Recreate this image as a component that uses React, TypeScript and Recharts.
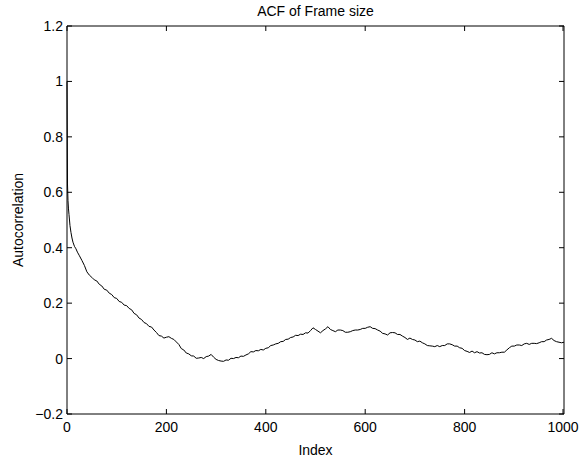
import { LineChart, Line, XAxis, YAxis, Label } from "recharts";

// lag index of each sample
const lags = [
  0, 1, 2, 3, 4, 5, 6, 8, 10, 12, 15, 18, 21, 25, 30, 35, 40, 45, 50, 55, 60, 65, 70, 75, 80, 85, 90, 95,
  100, 105, 110, 115, 120, 125, 130, 135, 140, 145, 150, 155, 160, 165, 170, 175, 180, 185, 190, 195,
  200, 205, 210, 215, 220, 225, 230, 235, 240, 245, 250, 255, 260, 265, 270, 275, 280, 285, 290, 295,
  300, 305, 310, 315, 320, 325, 330, 335, 340, 345, 350, 355, 360, 365, 370, 375, 380, 385, 390, 395,
  400, 405, 410, 415, 420, 425, 430, 435, 440, 445, 450, 455, 460, 465, 470, 475, 480, 485, 490, 495,
  500, 505, 510, 515, 520, 525, 530, 535, 540, 545, 550, 555, 560, 565, 570, 575, 580, 585, 590, 595,
  600, 605, 610, 615, 620, 625, 630, 635, 640, 645, 650, 655, 660, 665, 670, 675, 680, 685, 690, 695,
  700, 705, 710, 715, 720, 725, 730, 735, 740, 745, 750, 755, 760, 765, 770, 775, 780, 785, 790, 795,
  800, 805, 810, 815, 820, 825, 830, 835, 840, 845, 850, 855, 860, 865, 870, 875, 880, 885, 890, 895,
  900, 905, 910, 915, 920, 925, 930, 935, 940, 945, 950, 955, 960, 965, 970, 975, 980, 985, 990, 995,
  1000,
];

// autocorrelation of frame size
const acf = [
  1.0, 0.63, 0.57, 0.54, 0.52, 0.5, 0.48, 0.455, 0.435, 0.42, 0.405, 0.396, 0.384, 0.371, 0.354, 0.336, 0.313, 0.301, 0.293, 0.284, 0.28, 0.268, 0.262, 0.25, 0.247, 0.236, 0.231, 0.22,
  0.217, 0.206, 0.203, 0.193, 0.191, 0.181, 0.176, 0.163, 0.158, 0.146, 0.141, 0.13, 0.126, 0.116, 0.114, 0.103, 0.094, 0.083, 0.081, 0.074,
  0.077, 0.079, 0.073, 0.069, 0.06, 0.051, 0.036, 0.031, 0.02, 0.017, 0.01, 0.009, 0.001, 0.002, 0.004, 0.0, 0.007, 0.009, 0.015, 0.005,
  -0.003, -0.007, -0.009, -0.01, -0.005, -0.006, 0.001, 0.0, 0.004, 0.003, 0.009, 0.008, 0.013, 0.017, 0.025, 0.024, 0.029, 0.028, 0.033, 0.031,
  0.037, 0.039, 0.047, 0.049, 0.053, 0.055, 0.061, 0.062, 0.069, 0.07, 0.076, 0.078, 0.084, 0.083, 0.088, 0.087, 0.093, 0.092, 0.101, 0.111,
  0.105, 0.099, 0.093, 0.101, 0.107, 0.115, 0.105, 0.101, 0.097, 0.103, 0.103, 0.101, 0.095, 0.095, 0.097, 0.101, 0.103, 0.103, 0.105, 0.109,
  0.109, 0.113, 0.115, 0.109, 0.108, 0.103, 0.099, 0.091, 0.089, 0.085, 0.093, 0.094, 0.093, 0.087, 0.087, 0.081, 0.076, 0.069, 0.074, 0.069,
  0.067, 0.061, 0.063, 0.057, 0.053, 0.047, 0.046, 0.045, 0.043, 0.047, 0.043, 0.047, 0.047, 0.053, 0.053, 0.05, 0.045, 0.045, 0.039, 0.037,
  0.029, 0.026, 0.022, 0.027, 0.021, 0.025, 0.02, 0.021, 0.015, 0.014, 0.015, 0.021, 0.017, 0.021, 0.021, 0.023, 0.023, 0.031, 0.039, 0.045,
  0.045, 0.049, 0.049, 0.047, 0.053, 0.055, 0.051, 0.055, 0.055, 0.054, 0.057, 0.061, 0.061, 0.067, 0.069, 0.073, 0.065, 0.061, 0.059, 0.057,
  0.059,
];

const xTicks = [0, 200, 400, 600, 800, 1000];
const yTicks = [-0.2, 0, 0.2, 0.4, 0.6, 0.8, 1, 1.2];

const data = lags.map((lag, i) => ({ lag, acf: acf[i] }));

const FONT = "'Liberation Sans', Arial, sans-serif";
const TICK = 5;

const fmtY = (v: number) => (v < 0 ? "\u2212" + String(-v) : String(v));

const BottomTick = (props: any) => {
  const { x, y, payload } = props;
  return (
    <g>
      <line x1={x} y1={y} x2={x} y2={y - TICK} stroke="#000" />
      <text x={x} y={y + 18} textAnchor="middle" fontSize={14} fontFamily={FONT} fill="#000">
        {payload.value}
      </text>
    </g>
  );
};

const TopTick = (props: any) => {
  const { x, y } = props;
  return <line x1={x} y1={y} x2={x} y2={y + TICK} stroke="#000" />;
};

const LeftTick = (props: any) => {
  const { x, y, payload } = props;
  return (
    <g>
      <line x1={x} y1={y} x2={x + TICK} y2={y} stroke="#000" />
      <text x={x - 4} y={y + 5} textAnchor="end" fontSize={14} fontFamily={FONT} fill="#000">
        {fmtY(payload.value)}
      </text>
    </g>
  );
};

const RightTick = (props: any) => {
  const { x, y } = props;
  return <line x1={x} y1={y} x2={x - TICK} y2={y} stroke="#000" />;
};

export default function App() {
  return (
    <div style={{ position: "absolute", left: 0, top: 0, background: "#fff" }}>
      <LineChart width={579} height={458} data={data} margin={{ top: 25, right: 14, bottom: 0, left: 0 }}>
        <XAxis
          dataKey="lag"
          type="number"
          domain={[0, 1000]}
          ticks={xTicks}
          height={44}
          tickSize={0}
          tickMargin={0}
          tickLine={false}
          tick={<BottomTick />}
          axisLine={{ stroke: "#000" }}
        >
          <Label value="Index" position="insideBottom" offset={3} style={{ fontSize: 14, fontFamily: FONT, fill: "#000" }} />
        </XAxis>
        <XAxis
          xAxisId="top"
          orientation="top"
          dataKey="lag"
          type="number"
          domain={[0, 1000]}
          ticks={xTicks}
          height={1}
          tickSize={0}
          tickMargin={0}
          tickLine={false}
          tick={<TopTick />}
          axisLine={{ stroke: "#000" }}
        >
          <Label value="ACF of Frame size" position="top" offset={9} style={{ fontSize: 14, fontFamily: FONT, fill: "#000" }} />
        </XAxis>
        <YAxis
          type="number"
          domain={[-0.2, 1.2]}
          ticks={yTicks}
          width={67}
          tickSize={0}
          tickMargin={0}
          tickLine={false}
          tick={<LeftTick />}
          axisLine={{ stroke: "#000" }}
        >
          <Label
            value="Autocorrelation"
            angle={-90}
            position="insideLeft"
            offset={18}
            style={{ fontSize: 14, fontFamily: FONT, fill: "#000", textAnchor: "middle" }}
          />
        </YAxis>
        <YAxis
          yAxisId="right"
          orientation="right"
          type="number"
          domain={[-0.2, 1.2]}
          ticks={yTicks}
          width={1}
          tickSize={0}
          tickMargin={0}
          tickLine={false}
          tick={<RightTick />}
          axisLine={{ stroke: "#000" }}
        />
        <Line
          type="linear"
          dataKey="acf"
          stroke="#000"
          strokeWidth={1}
          dot={false}
          isAnimationActive={false}
        />
        {/* hidden copy so the mirrored top/right axes get drawn */}
        <Line
          xAxisId="top"
          yAxisId="right"
          type="linear"
          dataKey="acf"
          stroke="none"
          dot={false}
          activeDot={false}
          legendType="none"
          isAnimationActive={false}
        />
      </LineChart>
    </div>
  );
}
